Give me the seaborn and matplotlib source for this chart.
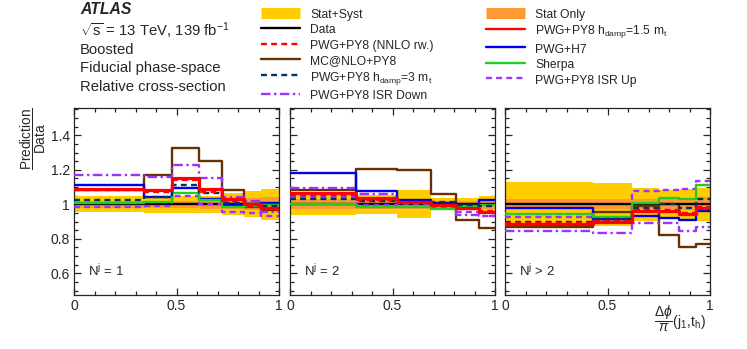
import numpy as np
import matplotlib

matplotlib.use('Agg')
import matplotlib.pyplot as plt
import seaborn as sns
from matplotlib.lines import Line2D
from matplotlib.ticker import MultipleLocator, FuncFormatter

# ---------------- data (ratio prediction / data, per N^j bin) ----------------
panel_labels = [r"N$^{\mathrm{j}}$ = 1", r"N$^{\mathrm{j}}$ = 2", r"N$^{\mathrm{j}}$ > 2"]

edges = [
    [0, 0.34, 0.48, 0.61, 0.72, 0.83, 0.91, 1.0],
    [0, 0.32, 0.52, 0.69, 0.81, 0.92, 1.0],
    [0, 0.43, 0.62, 0.75, 0.85, 0.93, 1.0],
]

# half widths of the uncertainty bands
stat_syst = [
    [0.045, 0.05, 0.05, 0.05, 0.065, 0.075, 0.09],
    [0.065, 0.055, 0.08, 0.035, 0.035, 0.045],
    [0.13, 0.125, 0.095, 0.085, 0.09, 0.095],
]
stat_only = [
    [0.02, 0.02, 0.02, 0.025, 0.03, 0.035, 0.04],
    [0.03, 0.025, 0.03, 0.02, 0.02, 0.025],
    [0.03, 0.03, 0.03, 0.03, 0.035, 0.04],
]

nnlo_rw = [
    [1.083, 1.073, 1.141, 1.073, 1.02, 0.99, 0.97],
    [1.054, 1.025, 1.01, 0.99, 0.97, 0.963],
    [0.894, 0.905, 0.967, 0.967, 0.948, 0.983],
]
mcnlo = [
    [1.08, 1.17, 1.325, 1.25, 1.083, 0.987, 0.967],
    [1.08, 1.205, 1.199, 1.058, 0.909, 0.861],
    [0.867, 0.957, 0.99, 0.822, 0.755, 0.77],
]
hdamp3 = [
    [1.025, 1.044, 1.112, 1.068, 1.006, 1.0, 0.99],
    [1.029, 1.02, 1.015, 1.015, 0.996, 0.99],
    [0.9, 0.915, 0.977, 1.0, 0.977, 1.031],
]
isr_down = [
    [1.17, 1.16, 1.228, 1.155, 1.044, 1.02, 0.958],
    [1.093, 1.058, 1.02, 0.996, 0.938, 0.93],
    [0.847, 0.832, 0.89, 0.89, 0.847, 0.87],
]
isr_up = [
    [0.983, 0.99, 1.048, 1.0, 0.957, 0.952, 0.932],
    [1.044, 0.996, 1.0, 0.986, 0.957, 0.932],
    [0.925, 0.905, 1.077, 1.083, 1.087, 1.135],
]
hdamp15 = [
    [1.089, 1.083, 1.151, 1.087, 1.03, 1.0, 0.977],
    [1.064, 1.035, 1.015, 0.996, 0.977, 0.957],
    [0.886, 0.9, 0.961, 0.961, 0.942, 0.977],
]
h7 = [
    [1.112, 1.044, 1.093, 1.03, 0.996, 1.0, 1.005],
    [1.184, 1.077, 1.025, 1.006, 0.99, 1.025],
    [0.977, 0.913, 0.932, 0.919, 0.909, 0.961],
]
sherpa = [
    [1.006, 1.015, 1.064, 1.025, 0.986, 0.99, 0.996],
    [1.0, 0.986, 0.986, 0.971, 0.99, 0.996],
    [0.944, 0.925, 1.006, 1.039, 1.031, 1.112],
]

# ---------------- style ----------------
sns.set_theme(style="ticks")
plt.rcParams['font.family'] = ['Liberation Sans', 'DejaVu Sans']
plt.rcParams['mathtext.fontset'] = 'custom'
plt.rcParams['mathtext.rm'] = 'Liberation Sans'
plt.rcParams['mathtext.it'] = 'Liberation Sans:italic'
plt.rcParams['mathtext.bf'] = 'Liberation Sans:bold'
plt.rcParams['axes.linewidth'] = 0.9

c_yellow = '#ffcc00'
c_orange = '#ff9933'
c_red = '#ff0000'
c_blue = '#0000ee'
c_green = '#22cc22'
c_brown = '#663300'
c_navy = '#003366'
c_purple = '#9933ff'

dashed = (0, (2.5, 1.8))
dashdot = (0, (4, 1.5, 1, 1.5))

series = [
    # (values, color, linestyle, linewidth)
    (mcnlo, c_brown, '-', 1.7),
    (isr_down, c_purple, dashdot, 1.7),
    (isr_up, c_purple, dashed, 1.7),
    (h7, c_blue, '-', 1.7),
    (sherpa, c_green, '-', 1.7),
    (hdamp3, c_navy, dashed, 1.7),
    (hdamp15, c_red, '-', 2.3),
    (nnlo_rw, c_red, dashed, 1.7),
]

fig = plt.figure(figsize=(7.47, 3.49), dpi=100)
W, H = 747.0, 349.0
ax_lefts = [74, 290, 505]
ax_w = 205
ax_top, ax_bot = 108, 295

for i in range(3):
    ax = fig.add_axes([ax_lefts[i] / W, 1 - ax_bot / H, ax_w / W, (ax_bot - ax_top) / H])
    e = np.array(edges[i])
    ss = np.array(stat_syst[i] + [stat_syst[i][-1]])
    so = np.array(stat_only[i] + [stat_only[i][-1]])
    ax.fill_between(e, 1 - ss, 1 + ss, step='post', color=c_yellow, lw=0, zorder=1)
    ax.fill_between(e, 1 - so, 1 + so, step='post', color=c_orange, lw=0, zorder=2)
    sns.lineplot(x=e, y=np.ones(len(e)), drawstyle='steps-post', color='black',
                 lw=1.7, ax=ax, zorder=3)
    for k, (vals, col, ls, lw) in enumerate(series):
        y = np.array(vals[i] + [vals[i][-1]])
        sns.lineplot(x=e, y=y, drawstyle='steps-post', color=col, linestyle=ls,
                     lw=lw, ax=ax, zorder=4 + k)

    ax.set_xlim(0, 1)
    ax.set_ylim(0.474, 1.558)
    ax.xaxis.set_major_locator(MultipleLocator(0.5))
    ax.xaxis.set_minor_locator(MultipleLocator(0.1))
    ax.yaxis.set_major_locator(MultipleLocator(0.2))
    ax.yaxis.set_minor_locator(MultipleLocator(0.05))
    fmt = FuncFormatter(lambda v, p: f"{v:g}")
    ax.xaxis.set_major_formatter(fmt)
    ax.yaxis.set_major_formatter(fmt)
    ax.tick_params(which='both', direction='in', top=True, right=True, labelsize=10,
                   width=0.9, pad=3)
    ax.tick_params(which='major', length=5)
    ax.tick_params(which='minor', length=2.8)
    if i > 0:
        ax.set_yticklabels([])
    ax.set_xlabel("")
    ax.set_ylabel("")
    ax.text(0.07, 0.128, panel_labels[i], transform=ax.transAxes, fontsize=9.5,
            va='center', ha='left')

# ---------------- axis titles ----------------
fig.text(33 / W, 1 - 139 / H, r"$\dfrac{\mathrm{Prediction}}{\mathrm{Data}}$", rotation=90,
         ha='center', va='center', fontsize=9.8)
fig.text(680 / W, 1 - 319 / H, r"$\dfrac{\Delta\phi}{\pi}$(j$_{\mathrm{1}}$,t$_{\mathrm{h}}$)",
         ha='center', va='center', fontsize=10)

# ---------------- ATLAS label ----------------
fig.text(80 / W, 1 - 10 / H, "ATLAS", fontsize=11.3, fontweight='bold', fontstyle='italic',
         va='center', ha='left')
info = [r"$\sqrt{\mathrm{s}}$ = 13 TeV, 139 fb$^{\mathrm{-1}}$", "Boosted",
        "Fiducial phase-space", "Relative cross-section"]
info_y = [31, 50, 68, 87]
for txt, yy in zip(info, info_y):
    fig.text(80 / W, 1 - yy / H, txt, fontsize=10.7, va='center', ha='left')

# ---------------- legends ----------------
handles1 = [
    Line2D([], [], color=c_yellow, lw=8, solid_capstyle='butt', label="Stat+Syst"),
    Line2D([], [], color='black', lw=1.7, label="Data"),
    Line2D([], [], color=c_red, lw=1.7, ls=dashed, label="PWG+PY8 (NNLO rw.)"),
    Line2D([], [], color=c_brown, lw=1.7, label="MC@NLO+PY8"),
    Line2D([], [], color=c_navy, lw=1.7, ls=dashed,
           label=r"PWG+PY8 h$_{\mathrm{damp}}$=3 m$_{\mathrm{t}}$"),
    Line2D([], [], color=c_purple, lw=1.7, ls=dashdot, label="PWG+PY8 ISR Down"),
]
handles2 = [
    Line2D([], [], color=c_orange, lw=8, solid_capstyle='butt', label="Stat Only"),
    Line2D([], [], color=c_red, lw=1.7, label=r"PWG+PY8 h$_{\mathrm{damp}}$=1.5 m$_{\mathrm{t}}$"),
    Line2D([], [], color=c_blue, lw=1.7, label="PWG+H7"),
    Line2D([], [], color=c_green, lw=1.7, label="Sherpa"),
    Line2D([], [], color=c_purple, lw=1.7, ls=dashed, label="PWG+PY8 ISR Up"),
]
leg_kw = dict(loc='upper left', frameon=False, fontsize=8.7, handlelength=3.25,
              handleheight=1.25, handletextpad=0.8, labelspacing=0.17, borderpad=0,
              borderaxespad=0)
fig.legend(handles=handles1, bbox_to_anchor=(261 / W, 1 - 7.5 / H), **leg_kw)
fig.legend(handles=handles2, bbox_to_anchor=(486 / W, 1 - 7.5 / H), **leg_kw)

fig.savefig("out.png", dpi=100)
